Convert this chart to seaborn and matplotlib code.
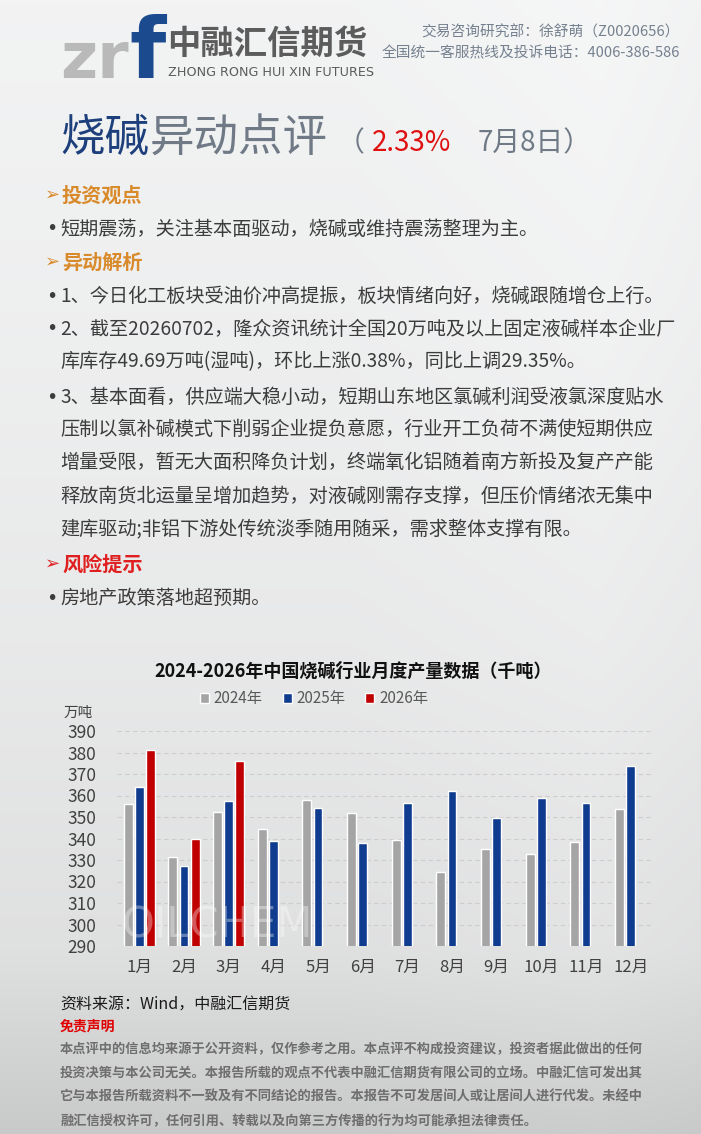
import numpy as np
import pandas as pd
import matplotlib.pyplot as plt
import seaborn as sns

sns.set_style('white')
plt.rcParams['font.family'] = ['Noto Sans CJK SC', 'DejaVu Sans']
plt.rcParams['axes.unicode_minus'] = False

# 数据：2024-2026年中国烧碱行业月度产量（万吨）
months = ['1月', '2月', '3月', '4月', '5月', '6月', '7月', '8月', '9月', '10月', '11月', '12月']
years = ['2024年', '2025年', '2026年']
prod_2024 = [356, 331.5, 352.5, 344.5, 358, 352, 339.5, 324.5, 335, 333, 338.5, 353.5]
prod_2025 = [364, 327, 357.5, 339, 354, 338, 356.5, 362, 349.5, 359, 356.5, 373.5]
prod_2026 = [381, 340, 376]
yticks = [290, 300, 310, 320, 330, 340, 350, 360, 370, 380, 390]
bar_colors = ['#a5a5a5', '#0f3c8e', '#c00000']

rows = []
for yr, vals in zip(years, [prod_2024, prod_2025, prod_2026]):
    for m, v in zip(months, vals):
        rows.append({'month': m, 'year': yr, 'value': v})
df = pd.DataFrame(rows)

W, H = 701, 1134
fig = plt.figure(figsize=(W / 100, H / 100), dpi=100)


def fx(x):
    return x / W


def fy(y):
    return 1 - y / H


# 背景渐变
bg = fig.add_axes([0, 0, 1, 1], zorder=-10)
yy = np.arange(H)
shade = np.interp(yy, [0, 300, 650, 950, 1134], [0.955, 0.94, 0.915, 0.88, 0.79])
xx = np.arange(W)
side = np.interp(xx, [0, 350, 600, 701], [0.0, 0.0, 0.012, 0.0])
img = np.clip(shade[:, None] + side[None, :], 0, 1)
rgb = np.stack([img * 0.995, img * 0.998, img * 1.0], axis=-1)
rgb = np.clip(rgb, 0, 1)
bg.imshow(rgb, aspect='auto', extent=[0, W, H, 0])
bg.set_xlim(0, W)
bg.set_ylim(H, 0)
bg.axis('off')

# 页眉 logo
fig.text(fx(60), fy(78), 'zr', fontsize=46, fontweight='bold', color='#b9b9b9',
         family='DejaVu Sans', va='baseline', ha='left')
fig.text(fx(129), fy(78), 'f', fontsize=60, fontweight='bold', color='#1c4a8e',
         family='DejaVu Sans', va='baseline', ha='left')
fig.text(fx(167), fy(44), '中融汇信期货', fontsize=24, fontweight='bold', color='#5c5c5c',
         va='center', ha='left')
fig.text(fx(168), fy(73), 'ZHONG RONG HUI XIN FUTURES', fontsize=9.2, color='#5c5c5c',
         family=['Liberation Sans Narrow', 'DejaVu Sans'], va='center', ha='left')
fig.text(fx(680), fy(32), '交易咨询研究部：徐舒萌（Z0020656）', fontsize=10.6, color='#75818f',
         va='center', ha='right')
fig.text(fx(680), fy(53), '全国统一客服热线及投诉电话：4006-386-586', fontsize=10.6, color='#75818f',
         va='center', ha='right')

# 标题
fig.text(fx(60), fy(138), '烧碱', fontsize=32, color='#1d3f7c', va='center', ha='left')
fig.text(fx(150), fy(138), '异动点评', fontsize=32, color='#6f7a86', va='center', ha='left')
fig.text(fx(337), fy(143), '（', fontsize=20, color='#6f7a86', va='center', ha='left')
fig.text(fx(372), fy(143), '2.33%', fontsize=20, color='#e01010', va='center', ha='left')
fig.text(fx(478), fy(143), '7月8日）', fontsize=20, color='#6f7a86', va='center', ha='left')

# 正文
orange = '#d98a2b'
body_color = '#3c3c3c'
body_fs = 13.8
head_fs = 14.5


def head(y, txt, color):
    fig.text(fx(45), fy(y), '➢', fontsize=13, color=color, va='center', ha='left',
             family=['DejaVu Sans'])
    fig.text(fx(62), fy(y), txt, fontsize=head_fs, fontweight='bold', color=color,
             va='center', ha='left')


def body(y, txt, bullet=True):
    if bullet:
        fig.text(fx(46), fy(y), '•', fontsize=body_fs, color=body_color, va='center', ha='left',
                 family=['DejaVu Sans'])
    fig.text(fx(60), fy(y), txt, fontsize=body_fs, color=body_color, va='center', ha='left')


head(195, '投资观点', orange)
body(229, '短期震荡，关注基本面驱动，烧碱或维持震荡整理为主。')
head(262, '异动解析', orange)
body(296, '1、今日化工板块受油价冲高提振，板块情绪向好，烧碱跟随增仓上行。')
body(329, '2、截至20260702，隆众资讯统计全国20万吨及以上固定液碱样本企业厂')
body(362, '库库存49.69万吨(湿吨)，环比上涨0.38%，同比上调29.35%。', bullet=False)
body(397, '3、基本面看，供应端大稳小动，短期山东地区氯碱利润受液氯深度贴水')
body(429, '压制以氯补碱模式下削弱企业提负意愿，行业开工负荷不满使短期供应', bullet=False)
body(462, '增量受限，暂无大面积降负计划，终端氧化铝随着南方新投及复产产能', bullet=False)
body(496, '释放南货北运量呈增加趋势，对液碱刚需存支撑，但压价情绪浓无集中', bullet=False)
body(530, '建库驱动;非铝下游处传统淡季随用随采，需求整体支撑有限。', bullet=False)
head(564, '风险提示', '#e02020')
body(598, '房地产政策落地超预期。')

# 图表
fig.text(fx(353), fy(671), '2024-2026年中国烧碱行业月度产量数据（千吨）', fontsize=13,
         fontweight='bold', color='#111111', va='center', ha='center')
fig.text(fx(64), fy(713), '万吨', fontsize=10.5, color='#404040', va='center', ha='left')
fig.text(fx(122), fy(925), 'OILCHEM', fontsize=30, color='white', alpha=0.35,
         family='DejaVu Sans', va='center', ha='left')

ax = fig.add_axes([fx(117), fy(946), 536 / W, 215 / H])
ax.patch.set_alpha(0)
sns.barplot(data=df, x='month', y='value', hue='year', order=months, hue_order=years,
            palette=bar_colors, width=0.75, gap=0.22, saturation=1, ax=ax)
ax.set_ylim(290, 390)
ax.set_yticks(yticks)
ax.set_xlabel('')
ax.set_ylabel('')
ax.yaxis.grid(True, linestyle=(0, (4, 3)), color='#cdcdcd', linewidth=0.8)
ax.set_axisbelow(True)
for s in ax.spines.values():
    s.set_visible(False)
ax.tick_params(axis='x', length=0, pad=9, labelsize=12, labelcolor='#404040')
ax.tick_params(axis='y', length=0, pad=15, labelsize=12.5, labelcolor='#404040')

leg = ax.legend(loc='center', bbox_to_anchor=(fx(314), fy(699)), bbox_transform=fig.transFigure,
                ncol=3, frameon=False, fontsize=11, handlelength=0.6, handleheight=0.6,
                handletextpad=0.3, columnspacing=1.3)
for t in leg.get_texts():
    t.set_color('#595959')

# 资料来源与免责声明
fig.text(fx(60), fy(1004), '资料来源：Wind，中融汇信期货', fontsize=11.5, color='#1a1a1a',
         va='center', ha='left')
fig.text(fx(60), fy(1026), '免责声明', fontsize=10, fontweight='bold', color='#e00000',
         va='center', ha='left')
disclaimer = [
    '本点评中的信息均来源于公开资料，仅作参考之用。本点评不构成投资建议，投资者据此做出的任何',
    '投资决策与本公司无关。本报告所载的观点不代表中融汇信期货有限公司的立场。中融汇信可发出其',
    '它与本报告所载资料不一致及有不同结论的报告。本报告不可发居间人或让居间人进行代发。未经中',
    '融汇信授权许可，任何引用、转载以及向第三方传播的行为均可能承担法律责任。',
]
for i, line in enumerate(disclaimer):
    fig.text(fx(60), fy(1049 + 24 * i), line, fontsize=9.5, fontweight='bold', color='#6e6e6e',
             va='center', ha='left')

fig.savefig('out.png', dpi=100)
